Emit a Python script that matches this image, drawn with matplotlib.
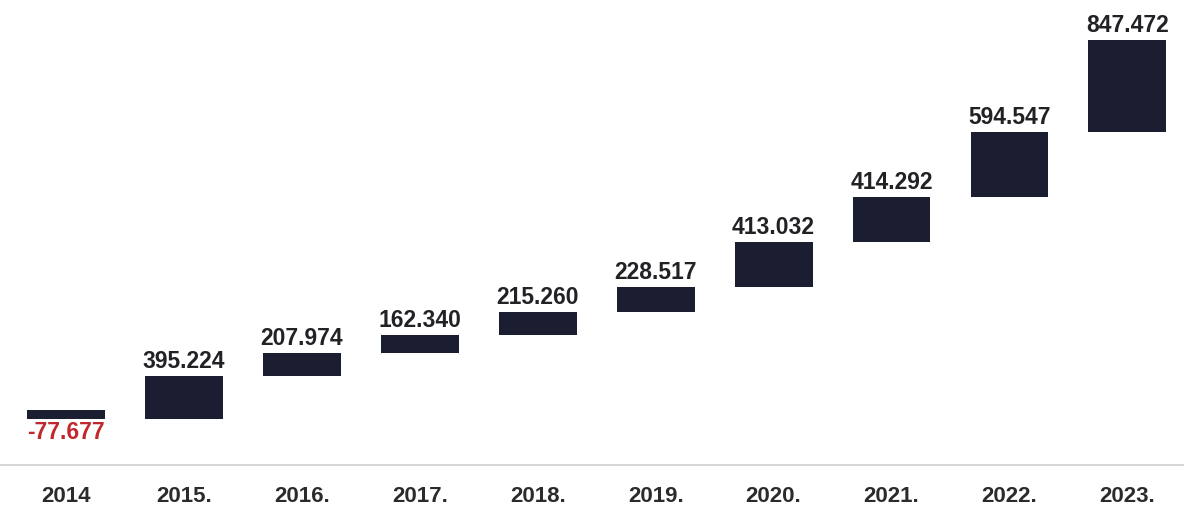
import numpy as np
import matplotlib.pyplot as plt

years = ['2014', '2015.', '2016.', '2017.', '2018.', '2019.', '2020.', '2021.', '2022.', '2023.']
changes = [-77.677, 395.224, 207.974, 162.340, 215.260, 228.517, 413.032, 414.292, 594.547, 847.472]
labels = ['-77.677', '395.224', '207.974', '162.340', '215.260', '228.517',
          '413.032', '414.292', '594.547', '847.472']

plt.rcParams['font.family'] = ['Liberation Sans', 'DejaVu Sans']

vals = np.array(changes)
ends = np.cumsum(vals)
starts = ends - vals
x = np.arange(len(years))

fig = plt.figure(figsize=(11.84, 5.08), dpi=100)
ax = fig.add_axes([0, 0.0846, 1, 0.9154])

bar_color = '#1b1e31'
ax.bar(x, vals, bottom=starts, width=0.66, color=bar_color)

for i in range(len(vals)):
    if vals[i] < 0:
        ax.annotate(labels[i], (x[i], starts[i] + vals[i]), xytext=(0, -2),
                    textcoords='offset points', ha='center', va='top',
                    fontsize=16.5, fontweight='bold', color='#c0282d')
    else:
        ax.annotate(labels[i], (x[i], ends[i]), xytext=(0, 2),
                    textcoords='offset points', ha='center', va='bottom',
                    fontsize=16.5, fontweight='bold', color='#222226')

ax.set_xlim(-0.56, 9.48)
ax.set_ylim(-505, 3768)

for s in ['top', 'right', 'left']:
    ax.spines[s].set_visible(False)
ax.spines['bottom'].set_color('#cfcfcf')
ax.spines['bottom'].set_linewidth(1.2)
ax.set_yticks([])
ax.set_xticks(x)
ax.set_xticklabels(years, fontsize=16, fontweight='bold', color='#2b2b2b')
ax.tick_params(axis='x', length=0, pad=15)

fig.savefig('out.png', dpi=100)
